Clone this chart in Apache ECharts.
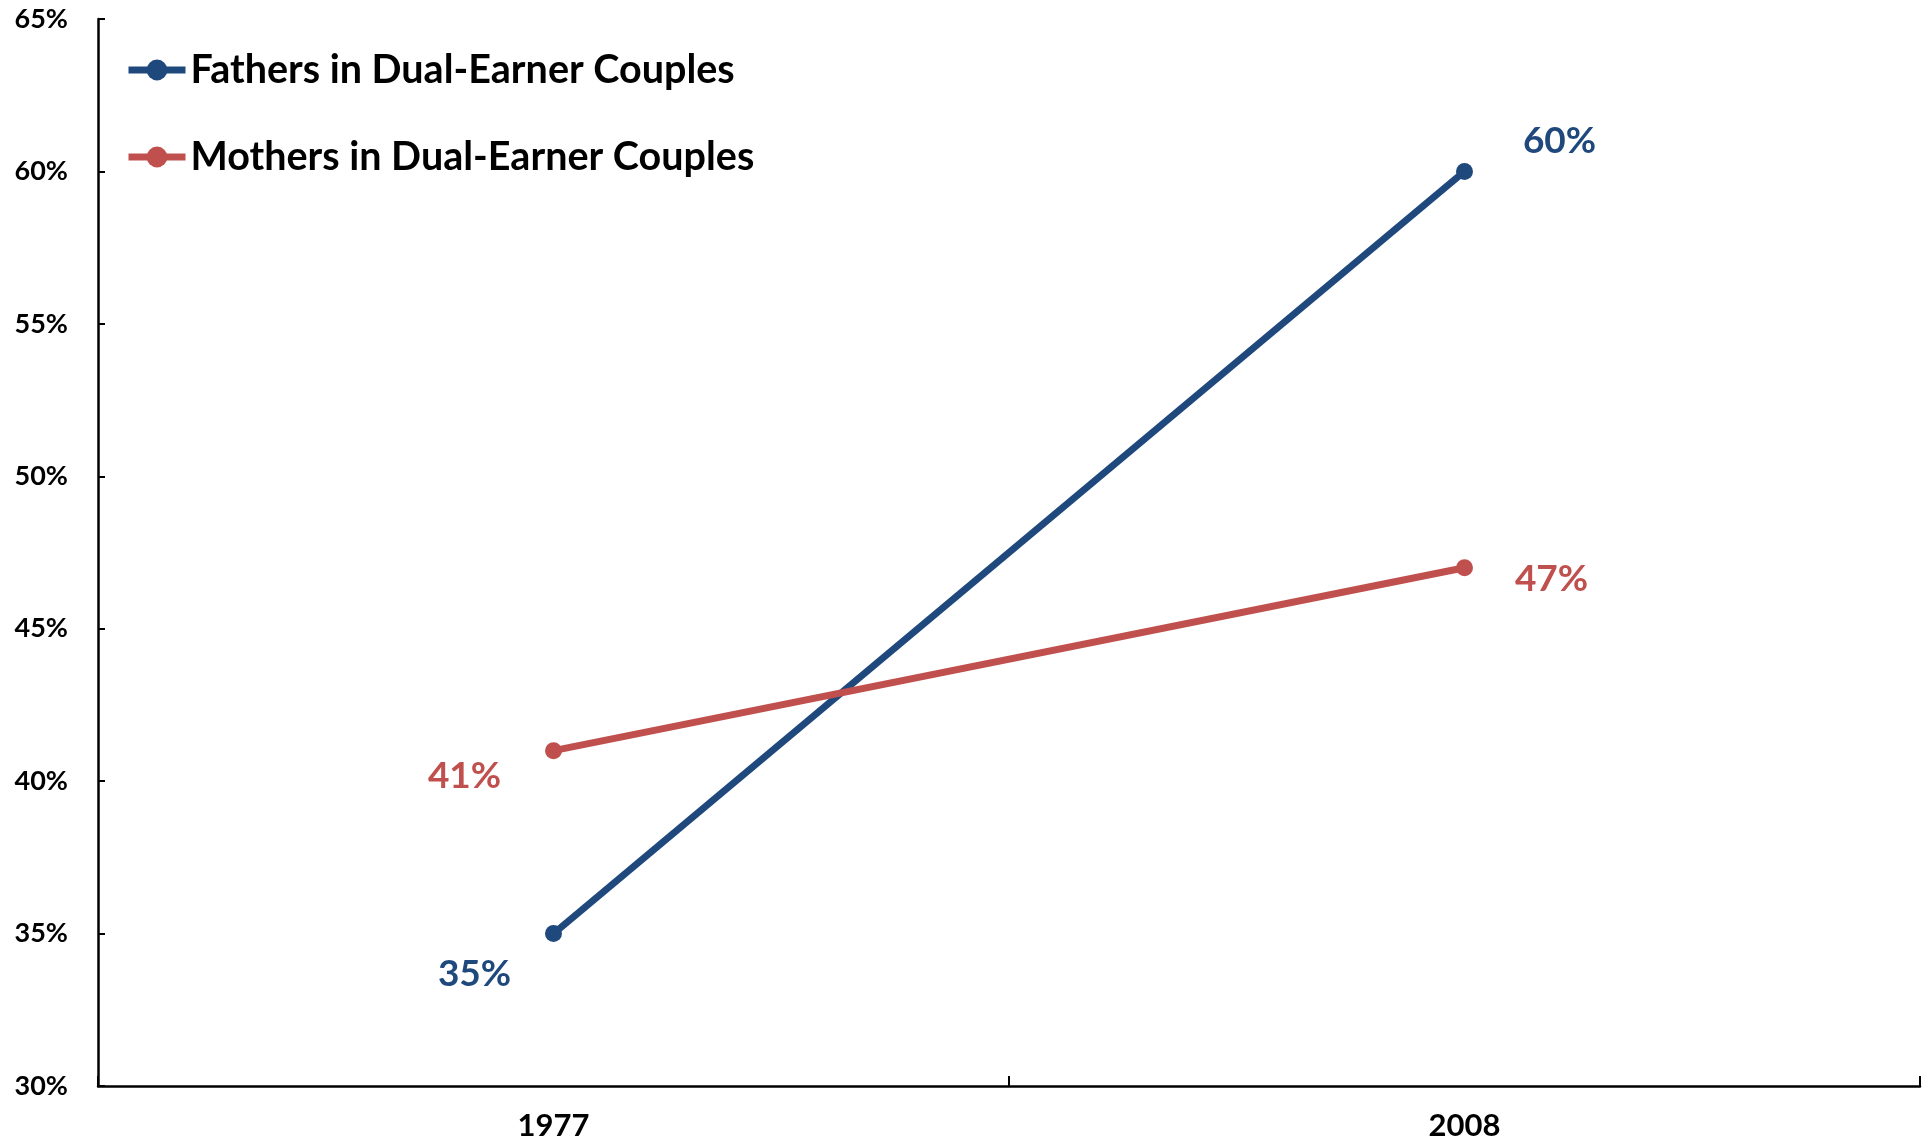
<!DOCTYPE html>
<html>
<head>
<meta charset="utf-8">
<script src="https://cdn.jsdelivr.net/npm/echarts@6/dist/echarts.min.js"></script>
<style>
html,body{margin:0;padding:0;background:#fff;}
#chart{width:1930px;height:1142px;}
</style>
</head>
<body>
<div id="chart"></div>
<script>
const categories = ['1977', '2008'];
const fathers = [35, 60];
const mothers = [41, 47];
const seriesNames = ['Fathers in Dual-Earner Couples', 'Mothers in Dual-Earner Couples'];
const yTicks = { min: 30, max: 65, interval: 5 };

const FONT = 'Lato';
const BLUE = '#1F497D';
const RED = '#C0504D';

function labelled(values, offsets, color) {
  return values.map((v, i) => ({
    value: v,
    label: {
      show: true,
      position: 'inside',
      offset: offsets[i],
      formatter: '{c}%',
      color: color,
      fontFamily: FONT,
      fontWeight: 'bold',
      fontSize: 37,
      align: 'center',
      verticalAlign: 'middle'
    }
  }));
}

const chart = echarts.init(document.getElementById('chart'), null, { renderer: 'canvas' });
chart.setOption({
  animation: false,
  backgroundColor: '#ffffff',
  grid: { left: 98, right: 10, top: 19, bottom: 56, containLabel: false },
  legend: {
    orient: 'vertical',
    left: 120,
    top: 45,
    itemWidth: 57,
    itemHeight: 26,
    itemGap: 47,
    lineStyle: { width: 7 },
    textStyle: { fontFamily: FONT, fontWeight: 'bold', fontSize: 39.5, color: '#000', lineHeight: 40 },
    data: seriesNames
  },
  xAxis: {
    type: 'category',
    data: categories,
    boundaryGap: true,
    axisLine: { lineStyle: { color: '#000', width: 2.5 } },
    axisTick: { show: true, inside: true, length: 10, lineStyle: { color: '#000', width: 2 } },
    axisLabel: { fontFamily: FONT, fontWeight: 'bold', fontSize: 31, color: '#000', margin: 24 },
    splitLine: { show: false }
  },
  yAxis: {
    type: 'value',
    min: yTicks.min,
    max: yTicks.max,
    interval: yTicks.interval,
    axisLine: { show: true, lineStyle: { color: '#000', width: 2.5 } },
    axisTick: { show: true, inside: true, length: 7, lineStyle: { color: '#000', width: 2 } },
    axisLabel: { fontFamily: FONT, fontWeight: 'bold', fontSize: 27, color: '#000', margin: 30, formatter: '{value}%' },
    splitLine: { show: false }
  },
  series: [
    {
      name: seriesNames[0],
      type: 'line',
      data: labelled(fathers, [[-79, 40], [95, -30]], BLUE),
      color: BLUE,
      symbol: 'circle',
      symbolSize: 17,
      lineStyle: { width: 7, color: BLUE },
      itemStyle: { color: BLUE }
    },
    {
      name: seriesNames[1],
      type: 'line',
      data: labelled(mothers, [[-89, 25], [87, 11]], RED),
      color: RED,
      symbol: 'circle',
      symbolSize: 17,
      lineStyle: { width: 7, color: RED },
      itemStyle: { color: RED }
    }
  ]
});
</script>
</body>
</html>
